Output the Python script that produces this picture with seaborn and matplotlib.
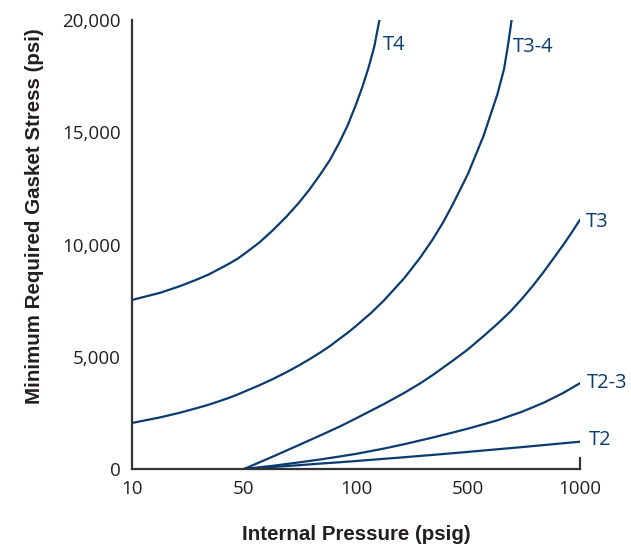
import numpy as np
import pandas as pd
import matplotlib
matplotlib.use("Agg")
import matplotlib.pyplot as plt
import seaborn as sns

# tick values of the pressure axis (drawn evenly spaced)
x_ticks = [10, 50, 100, 500, 1000]
x_tick_labels = ["10", "50", "100", "500", "1000"]
y_ticks = [0, 5000, 10000, 15000, 20000]
y_tick_labels = ["0", "5,000", "10,000", "15,000", "20,000"]

# curves: internal pressure (psig) -> gasket stress (psi)
t4_pressure = [10, 15, 20, 25, 30, 35, 40, 45, 50, 55, 60, 65, 70, 75, 80,
               85, 90, 95, 100, 110, 120, 130, 140]
t4_stress = [7530, 7850, 8150, 8420, 8660, 8910, 9130, 9340, 9570, 10090,
             10660, 11240, 11830, 12450, 13100, 13750, 14510, 15310, 16240,
             17050, 17900, 18810, 20000]

t34_pressure = [10, 15, 20, 25, 30, 35, 40, 45, 50, 55, 60, 65, 70, 75, 80,
                85, 90, 95, 100, 125, 150, 200, 250, 300, 350, 400, 450, 500,
                550, 600, 625, 640, 655]
t34_stress = [2050, 2300, 2510, 2700, 2860, 3020, 3160, 3300, 3440, 3730,
              4020, 4310, 4600, 4890, 5180, 5470, 5780, 6070, 6370, 6970,
              7520, 8500, 9390, 10210, 10990, 11760, 12490, 13150, 14820,
              16700, 17820, 18850, 20000]

t3_pressure = [50, 60, 70, 80, 90, 100, 150, 200, 250, 300, 400, 500, 550,
               600, 650, 700, 750, 800, 850, 900, 950, 1000]
t3_stress = [0, 566, 1056, 1488, 1875, 2254, 2900, 3390, 3804, 4178, 4815,
             5331, 5915, 6467, 7015, 7603, 8195, 8797, 9394, 9964, 10534,
             11104]

t23_pressure = [50, 60, 70, 80, 90, 100, 150, 200, 300, 400, 500, 600, 700,
                800, 900, 1000]
t23_stress = [0, 147, 290, 423, 552, 673, 913, 1105, 1399, 1621, 1799, 2169,
              2557, 2957, 3381, 3822]

t2_pressure = [50, 60, 70, 80, 90, 100, 150, 200, 300, 400, 500, 600, 700,
               800, 900, 1000]
t2_stress = [0, 89, 168, 239, 299, 355, 454, 524, 627, 702, 762, 879, 977,
             1066, 1146, 1216]

curve_names = ["T4", "T3-4", "T3", "T2-3", "T2"]
curves = [(t4_pressure, t4_stress), (t34_pressure, t34_stress),
          (t3_pressure, t3_stress), (t23_pressure, t23_stress),
          (t2_pressure, t2_stress)]
# label offsets from the curve end, in pixels
label_offsets = [(3, -25), (1, -27), (6, -2), (7, 0), (9, 2)]

line_color = "#0b3c6f"
text_color = "#231f20"

sns.set_style("white")
plt.rcParams["font.family"] = ["Open Sans", "DejaVu Sans"]

log_ticks = np.log10(x_ticks)
positions = np.arange(len(x_ticks), dtype=float)


def forward(x):
    # pressure -> evenly spaced tick position
    x = np.clip(np.asarray(x, dtype=float), 1e-6, None)
    return np.interp(np.log10(x), log_ticks, positions)


def inverse(p):
    return 10 ** np.interp(np.asarray(p, dtype=float), positions, log_ticks)


fig = plt.figure(figsize=(6.31, 5.46), dpi=100)
ax = fig.add_axes([132 / 631, 77 / 546, 448 / 631, 449 / 546])
ax.set_xscale("function", functions=(forward, inverse))

for name, (px, sy), off in zip(curve_names, curves, label_offsets):
    df = pd.DataFrame({"pressure": px, "stress": sy})
    sns.lineplot(data=df, x="pressure", y="stress", ax=ax, color=line_color,
                 linewidth=1.6, sort=False)
    ax.annotate(name, xy=(px[-1], sy[-1]), xytext=off,
                textcoords="offset pixels", ha="left", va="center",
                fontsize=14.5, color=line_color)

ax.set_xlim(10, 1000)
ax.set_ylim(0, 20000)
ax.set_xticks(x_ticks)
ax.set_xticklabels(x_tick_labels)
ax.set_yticks(y_ticks)
ax.set_yticklabels(y_tick_labels)
ax.minorticks_off()
ax.tick_params(axis="both", length=0, labelsize=13.5, colors=text_color)
ax.tick_params(axis="x", pad=8)
ax.tick_params(axis="y", pad=8)

ax.spines["top"].set_visible(False)
for side in ["left", "bottom", "right"]:
    ax.spines[side].set_color("#333333")
    ax.spines[side].set_linewidth(1.6)
ax.spines["right"].set_bounds(0, 500)

label_font = {"family": ["Liberation Sans", "DejaVu Sans"], "size": 14.8,
              "weight": "bold", "color": text_color}
ax.set_xlabel("Internal Pressure (psig)", fontdict=label_font)
ax.set_ylabel("Minimum Required Gasket Stress (psi)", fontdict=label_font)
ax.xaxis.set_label_coords(0.5, -0.124)
ax.yaxis.set_label_coords(-0.197, 0.563)

fig.savefig("out.png", dpi=100)
